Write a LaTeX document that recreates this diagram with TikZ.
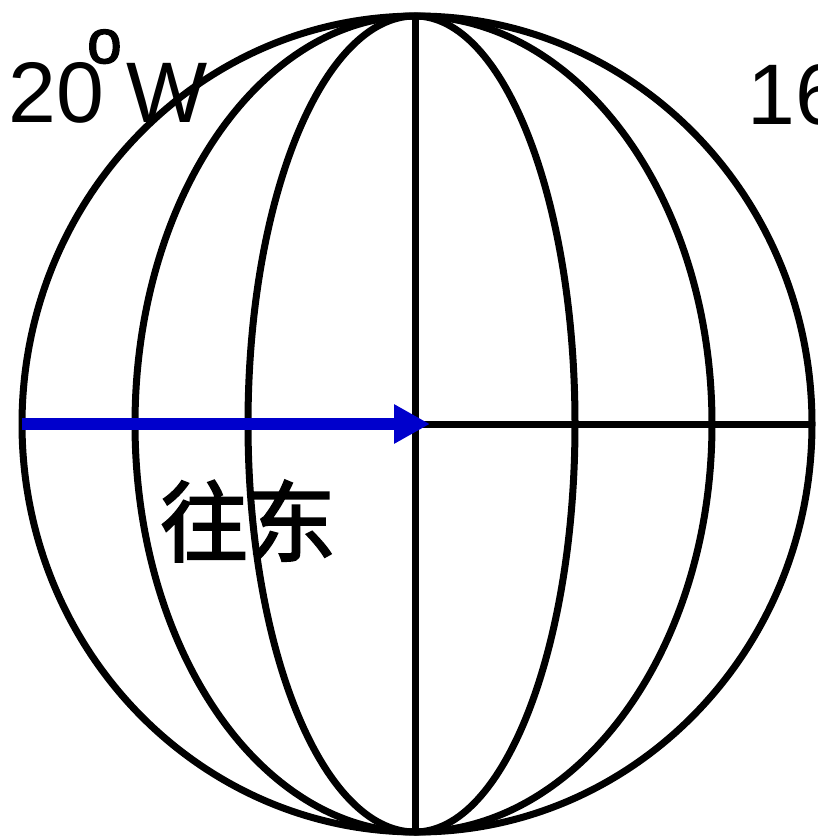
\documentclass[tikz,border=0pt]{standalone}
\usepackage{fontspec}
\setmainfont{Liberation Sans}
\newfontfamily\cjk{Noto Sans CJK SC}
\usetikzlibrary{arrows.meta}
\definecolor{arrowblue}{RGB}{0,0,204}
\newcommand{\heavytext}[2]{\special{pdf:literal direct 2 Tr #1 w 0 0 0 RG}#2\special{pdf:literal direct 0 Tr}}
\tikzset{
  gridline/.style={line width=7pt, black},
  eastarrow/.style={line width=11.5pt, arrowblue, -{Triangle[length=36pt,width=37pt]}},
  labeltext/.style={inner sep=0pt, anchor=base west, font=\fontsize{86}{86}\selectfont},
}
\begin{document}
\begin{tikzpicture}[x=1pt,y=-1pt]
\useasboundingbox (0,0) rectangle (817,837);
\clip (0,0) rectangle (817,837);
% outer circle
\draw[gridline] (417,424) ellipse [x radius=395, y radius=408];
% meridians
\coordinate (top) at (415,16);
\coordinate (bottom) at (415,832);
\coordinate (center) at (415,424);
\coordinate (east) at (812,424);
\coordinate (west) at (22,424);
\coordinate (tip) at (430,424);
\draw[gridline] (top) arc[start angle=270, end angle=90, x radius=280, y radius=408];
\draw[gridline] (top) arc[start angle=270, end angle=90, x radius=167, y radius=408];
\draw[gridline] (top) arc[start angle=270, end angle=450, x radius=160, y radius=408];
\draw[gridline] (top) arc[start angle=270, end angle=450, x radius=297, y radius=408];
\draw[gridline] (top) -- (bottom);
\draw[gridline] (center) -- (east);
% arrow
\draw[eastarrow] (west) -- (tip);
% labels
\node[labeltext] (twenty) at (8,123) {20};
\node[inner sep=0pt, anchor=base west, font=\fontsize{62}{62}\selectfont] (deg) at (87,63) {\heavytext{1.5}{o}};
\node[labeltext] (w) at (126,123) {W};
\node[labeltext] (sixteen) at (747,125) {16};
\node[inner sep=0pt, font=\cjk\fontsize{88}{88}\selectfont] (dong) at (248,521) {\heavytext{2}{往东}};
\end{tikzpicture}
\end{document}
